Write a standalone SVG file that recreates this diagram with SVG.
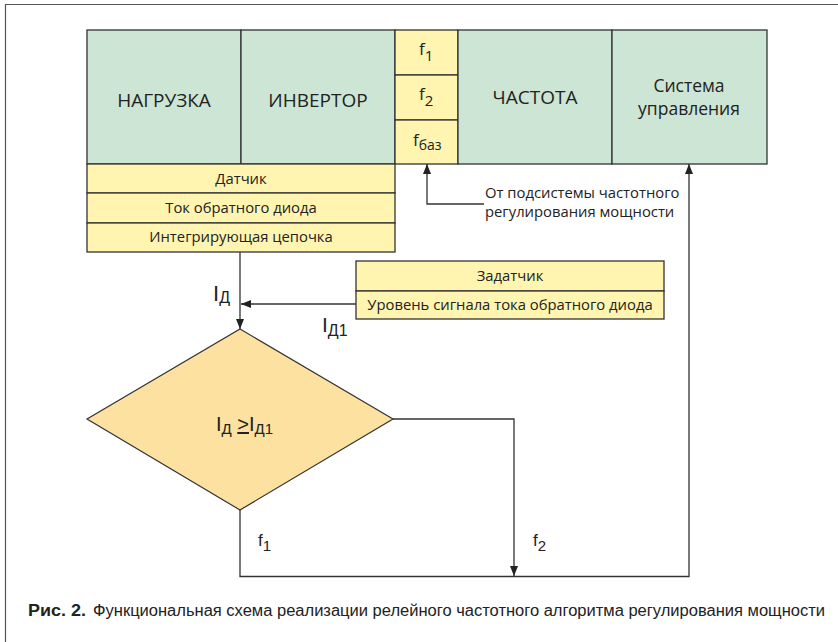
<svg xmlns="http://www.w3.org/2000/svg" width="838" height="642" viewBox="0 0 838 642">
<defs>
<style>
.g{fill:#cce5d5;stroke:#333;stroke-width:1.3}
.y{fill:#fff5b0;stroke:#333;stroke-width:1.3}
.d{fill:#fde1a0;stroke:#333;stroke-width:1.2}
.t{font-family:"Open Sans","Noto Sans",sans-serif;fill:#222}
.big{font-size:17.5px}
.mid{font-size:14.8px}
.c{text-anchor:middle}
.n{font-family:"Liberation Sans",Arial,sans-serif;fill:#222}
.ln{fill:none;stroke:#333;stroke-width:1.3}
</style>
<marker id="ah" markerUnits="userSpaceOnUse" markerWidth="10" markerHeight="8" refX="10" refY="4" orient="auto">
<path d="M0,0 L10,4 L0,8 z" fill="#222"/>
</marker>
</defs>
<rect width="838" height="642" fill="#fff"/>
<path d="M5.5,642 V4.5 H838" fill="none" stroke="#555" stroke-width="1.2"/>

<g id="nagruzka">
<rect class="g" x="87" y="30" width="154" height="134"/>
<text class="t c" x="164" y="107" font-size="19">НАГРУЗКА</text>
</g>
<g id="invertor">
<rect class="g" x="241" y="30" width="154" height="134"/>
<text class="t c" x="318" y="107" font-size="19">ИНВЕРТОР</text>
</g>
<g id="f1">
<rect class="y" x="395" y="30" width="63" height="45"/>
<text class="t" x="419" y="55" font-size="17">f<tspan font-size="15" dy="6">1</tspan></text>
</g>
<g id="f2">
<rect class="y" x="395" y="75" width="63" height="45"/>
<text class="t" x="419" y="100" font-size="17">f<tspan font-size="15" dy="6">2</tspan></text>
</g>
<g id="fbaz">
<rect class="y" x="395" y="120" width="63" height="44"/>
<text class="t" x="413" y="146" font-size="17">f<tspan font-size="14" dy="4">баз</tspan></text>
</g>
<g id="chastota">
<rect class="g" x="458" y="30" width="154" height="134"/>
<text class="t c" x="535" y="104" font-size="19">ЧАСТОТА</text>
</g>
<g id="sistema">
<rect class="g" x="612" y="30" width="155" height="134"/>
<text class="t c big" x="689" y="92">Система</text>
<text class="t c big" x="689" y="115">управления</text>
</g>

<g id="datchik">
<rect class="y" x="87" y="164" width="308" height="29"/>
<rect class="y" x="87" y="193" width="308" height="30"/>
<rect class="y" x="87" y="223" width="308" height="29"/>
<text class="t c mid" x="241" y="184">Датчик</text>
<text class="t c mid" x="241" y="213">Ток обратного диода</text>
<text class="t c mid" x="241" y="242">Интегрирующая цепочка</text>
</g>

<g id="zadatchik">
<rect class="y" x="356" y="261" width="308" height="30"/>
<rect class="y" x="356" y="291" width="308" height="28"/>
<text class="t c mid" x="510" y="281">Задатчик</text>
<text class="t c mid" x="510" y="310">Уровень сигнала тока обратного диода</text>
</g>

<g id="compare">
<polygon class="d" points="240,329 393,419 240,510 87,419"/>
<text class="n" x="216" y="431" font-size="20">I<tspan font-size="15" dy="3">Д</tspan><tspan dy="-3"> </tspan><tspan text-decoration="underline">&gt;</tspan>I<tspan font-size="15" dy="3">Д1</tspan></text>
</g>

<g id="source-note">
<text class="t mid" x="485" y="198">От подсистемы частотного</text>
<text class="t mid" x="485" y="217">регулирования мощности</text>
</g>

<g id="connectors">
<path class="ln" d="M240,252 V329" marker-end="url(#ah)"/>
<path class="ln" d="M356,304 H241" marker-end="url(#ah)"/>
<path class="ln" d="M393,419 H514 V576" marker-end="url(#ah)"/>
<path class="ln" d="M240,510 V576.5 H689 V164" marker-end="url(#ah)"/>
<path class="ln" d="M484,204 H427 V164" marker-end="url(#ah)"/>
</g>

<g id="labels">
<text class="n" x="213" y="301" font-size="22">I<tspan font-size="16" dy="2">Д</tspan></text>
<text class="n" x="322" y="332" font-size="21">I<tspan font-size="16" dy="4">Д1</tspan></text>
<text class="n" x="258" y="546" font-size="17">f<tspan font-size="15" dy="5">1</tspan></text>
<text class="n" x="533" y="546" font-size="17">f<tspan font-size="15" dy="5">2</tspan></text>
</g>

<g id="caption">
<text class="n" x="28" y="616" font-size="16.5"><tspan font-weight="bold" textLength="58" lengthAdjust="spacingAndGlyphs">Рис. 2.</tspan></text>
<text class="n" x="93" y="616" font-size="16" textLength="732" lengthAdjust="spacingAndGlyphs">Функциональная схема реализации релейного частотного алгоритма регулирования мощности</text>
</g>
</svg>
